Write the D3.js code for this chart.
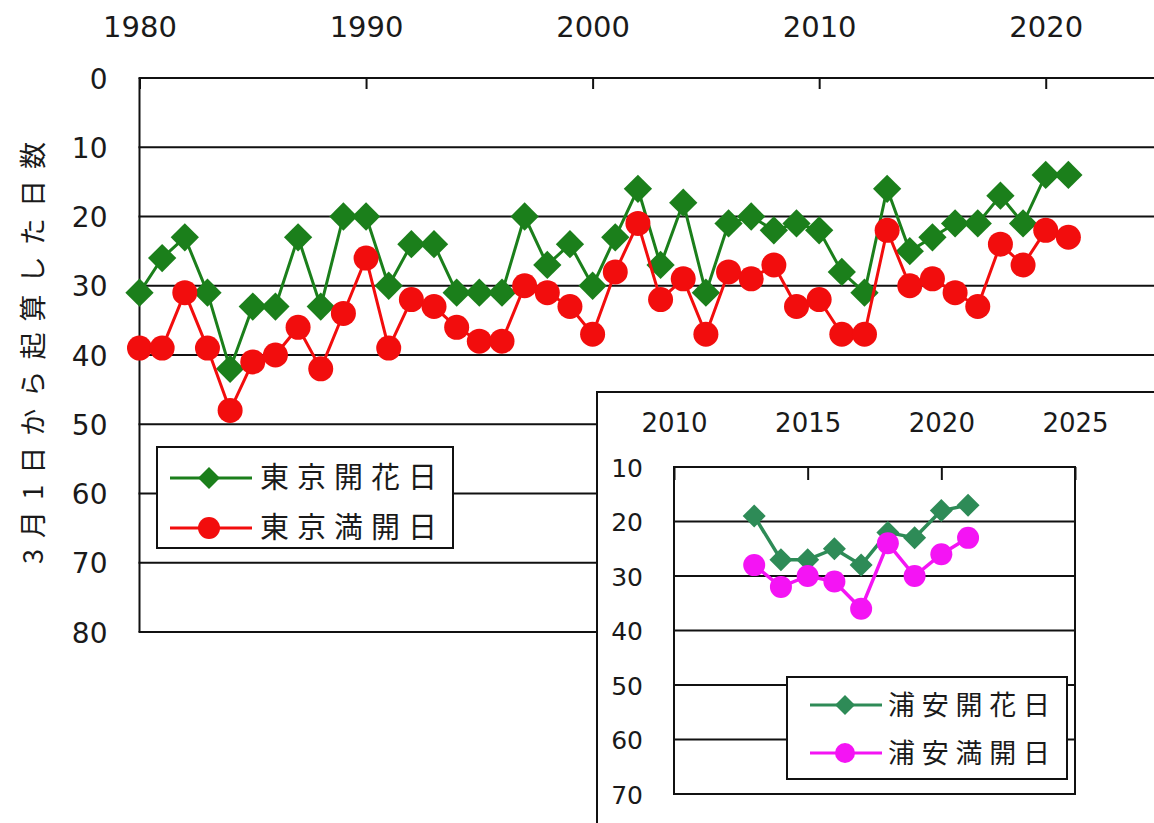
<!DOCTYPE html>
<html>
<head>
<meta charset="utf-8">
<script src="https://cdn.jsdelivr.net/npm/d3@7"></script>
<style>
  html, body { margin: 0; padding: 0; background: #fff; overflow: hidden; }
  #chart { display: block; }
  .num { font-family: "DejaVu Sans", sans-serif; fill: #1a1a1a; }
  .jp  { font-family: "Noto Sans CJK JP", sans-serif; fill: #1a1a1a; }
</style>
</head>
<body>
<svg id="chart"></svg>
<script>
// Tokyo: days counted from March 1
const years = d3.range(1980, 2022);
const tokyoKaika = [31, 26, 23, 31, 42, 33, 33, 23, 33, 20,
                    20, 30, 24, 24, 31, 31, 31, 20, 27, 24,
                    30, 23, 16, 27, 18, 31, 21, 20, 22, 21,
                    22, 28, 31, 16, 25, 23, 21, 21, 17, 21,
                    14, 14];
const tokyoMankai = [39, 39, 31, 39, 48, 41, 40, 36, 42, 34,
                     26, 39, 32, 33, 36, 38, 38, 30, 31, 33,
                     37, 28, 21, 32, 29, 37, 28, 29, 27, 33,
                     32, 37, 37, 22, 30, 29, 31, 33, 24, 27,
                     22, 23];

// Urayasu (inset)
const urayasuYears = d3.range(2013, 2022);
const urayasuKaika = [19, 27, 27, 25, 28, 22, 23, 18, 17];
const urayasuMankai = [28, 32, 30, 31, 36, 24, 30, 26, 23];

const mainXTicks = [1980, 1990, 2000, 2010, 2020];
const mainYTicks = [0, 10, 20, 30, 40, 50, 60, 70, 80];
const insetXTicks = [2010, 2015, 2020, 2025];
const insetYTicks = [10, 20, 30, 40, 50, 60, 70];

const yTitle = '3月1日から起算した日数';
const mainNames = ['東京開花日', '東京満開日'];
const insetNames = ['浦安開花日', '浦安満開日'];

const W = 1154, H = 823;
const svg = d3.select('#chart').attr('width', W).attr('height', H);

const diamond = s => d3.symbol(d3.symbolSquare, s);

function drawSeries(g, xs, ys, xv, yv, color, kind, size, lw){
    const pts = xv.map((v, i) => ({x: v, y: yv[i]}));
    g.append('path')
        .attr('d', d3.line().x(d => xs(d.x)).y(d => ys(d.y))(pts))
        .attr('fill', 'none')
        .attr('stroke', color)
        .attr('stroke-width', lw)
        .attr('stroke-linejoin', 'round');
    if (kind === 'diamond'){
        g.selectAll(null).data(pts).enter().append('path')
            .attr('d', diamond(size)())
            .attr('transform', d => `translate(${xs(d.x)},${ys(d.y)}) rotate(45)`)
            .attr('fill', color);
    } else {
        g.selectAll(null).data(pts).enter().append('circle')
            .attr('cx', d => xs(d.x))
            .attr('cy', d => ys(d.y))
            .attr('r', size)
            .attr('fill', color);
    }
}

// ---------- main chart ----------
const mx = d3.scaleLinear().domain([1980, 2025]).range([139.5, 1159]);
const my = d3.scaleLinear().domain([0, 80]).range([78, 632]);
const main = svg.append('g');

// gridlines (plot runs off the right edge of the picture)
main.append('g').selectAll('rect')
    .data(mainYTicks)
    .enter().append('rect')
    .attr('x', mx(1980) - 1).attr('width', W - mx(1980) + 1)
    .attr('y', d => my(d) - 1).attr('height', 2)
    .attr('fill', '#111');

main.append('line')
    .attr('x1', mx(1980)).attr('x2', mx(1980))
    .attr('y1', my(0)).attr('y2', my(80))
    .attr('stroke', '#111').attr('stroke-width', 2);

const mxAxis = main.append('g')
    .attr('transform', `translate(0,${my(0)})`)
    .call(d3.axisTop(mx).tickValues(mainXTicks).tickFormat(d3.format('d'))
        .tickSizeInner(-11).tickSizeOuter(0).tickPadding(41));
mxAxis.select('.domain').remove();
mxAxis.selectAll('line').attr('stroke', '#111').attr('stroke-width', 2);
mxAxis.selectAll('text').attr('class', 'num').attr('font-size', 29);

const myAxis = main.append('g')
    .attr('transform', `translate(${mx(1980)},0)`)
    .call(d3.axisLeft(my).tickValues(mainYTicks).tickSize(0).tickPadding(32));
myAxis.select('.domain').remove();
myAxis.selectAll('text').attr('class', 'num').attr('font-size', 28).attr('dy', '0.36em');

svg.append('text')
    .attr('class', 'jp')
    .attr('transform', 'translate(43,353) rotate(-90)')
    .attr('text-anchor', 'middle')
    .attr('font-size', 27)
    .attr('textLength', 422)
    .attr('lengthAdjust', 'spacing')
    .text(yTitle);

drawSeries(main, mx, my, years, tokyoKaika, '#1b7f1b', 'diamond', 400, 3);
drawSeries(main, mx, my, years, tokyoMankai, '#f20d0d', 'circle', 12.5, 3);

// main legend
const mainColors = ['#1b7f1b', '#f20d0d'];
const leg = svg.append('g');
leg.append('rect').attr('x', 157).attr('y', 447).attr('width', 296).attr('height', 101)
    .attr('fill', '#fff').attr('stroke', '#111').attr('stroke-width', 2);
mainNames.forEach((name, i) => {
    const cy = 478 + i * 50;
    leg.append('line').attr('x1', 170).attr('x2', 252).attr('y1', cy).attr('y2', cy)
        .attr('stroke', mainColors[i]).attr('stroke-width', 3);
    if (i === 0){
        leg.append('path').attr('d', diamond(240)())
            .attr('transform', `translate(209,${cy}) rotate(45)`).attr('fill', mainColors[i]);
    } else {
        leg.append('circle').attr('cx', 209).attr('cy', cy).attr('r', 11).attr('fill', mainColors[i]);
    }
    leg.append('text').attr('class', 'jp').attr('x', 260).attr('y', cy).attr('dy', '0.36em')
        .attr('font-size', 29).attr('textLength', 177).attr('lengthAdjust', 'spacing')
        .text(name);
});

// ---------- inset chart ----------
const inset = svg.append('g');
inset.append('rect').attr('x', 597).attr('y', 392).attr('width', W - 597).attr('height', H - 392)
    .attr('fill', '#fff');
inset.append('path')
    .attr('d', `M597,${H}V392H${W}`)
    .attr('fill', 'none').attr('stroke', '#111').attr('stroke-width', 2);

const ix = d3.scaleLinear().domain([2010, 2025]).range([674, 1075]);
const iy = d3.scaleLinear().domain([10, 70]).range([467, 794]);

inset.append('g').selectAll('line')
    .data(insetYTicks.slice(1, -1))
    .enter().append('line')
    .attr('x1', ix(2010)).attr('x2', ix(2025))
    .attr('y1', d => iy(d)).attr('y2', d => iy(d))
    .attr('stroke', '#111').attr('stroke-width', 2);

inset.append('rect')
    .attr('x', ix(2010)).attr('y', iy(10))
    .attr('width', ix(2025) - ix(2010)).attr('height', iy(70) - iy(10))
    .attr('fill', 'none').attr('stroke', '#111').attr('stroke-width', 2);

const ixAxis = inset.append('g')
    .attr('transform', `translate(0,${iy(10)})`)
    .call(d3.axisTop(ix).tickValues(insetXTicks).tickFormat(d3.format('d'))
        .tickSizeInner(-13).tickSizeOuter(0).tickPadding(35));
ixAxis.select('.domain').remove();
ixAxis.selectAll('line').attr('stroke', '#111').attr('stroke-width', 2);
ixAxis.selectAll('text').attr('class', 'num').attr('font-size', 26);

const iyAxis = inset.append('g')
    .attr('transform', `translate(${ix(2010)},0)`)
    .call(d3.axisLeft(iy).tickValues(insetYTicks).tickSize(0).tickPadding(31));
iyAxis.select('.domain').remove();
iyAxis.selectAll('text').attr('class', 'num').attr('font-size', 25).attr('dy', '0.36em');

drawSeries(inset, ix, iy, urayasuYears, urayasuKaika, '#2e8b57', 'diamond', 265, 3.5);
drawSeries(inset, ix, iy, urayasuYears, urayasuMankai, '#f414f4', 'circle', 11, 3.5);

// inset legend
const insetColors = ['#2e8b57', '#f414f4'];
const ileg = svg.append('g');
ileg.append('rect').attr('x', 787).attr('y', 677).attr('width', 280).attr('height', 102)
    .attr('fill', '#fff').attr('stroke', '#111').attr('stroke-width', 2);
insetNames.forEach((name, i) => {
    const cy = 705 + i * 48;
    ileg.append('line').attr('x1', 810).attr('x2', 882).attr('y1', cy).attr('y2', cy)
        .attr('stroke', insetColors[i]).attr('stroke-width', 3);
    if (i === 0){
        ileg.append('path').attr('d', diamond(200)())
            .attr('transform', `translate(845,${cy}) rotate(45)`).attr('fill', insetColors[i]);
    } else {
        ileg.append('circle').attr('cx', 845).attr('cy', cy).attr('r', 10).attr('fill', insetColors[i]);
    }
    ileg.append('text').attr('class', 'jp').attr('x', 888).attr('y', cy).attr('dy', '0.36em')
        .attr('font-size', 27).attr('textLength', 162).attr('lengthAdjust', 'spacing')
        .text(name);
});
</script>
</body>
</html>
